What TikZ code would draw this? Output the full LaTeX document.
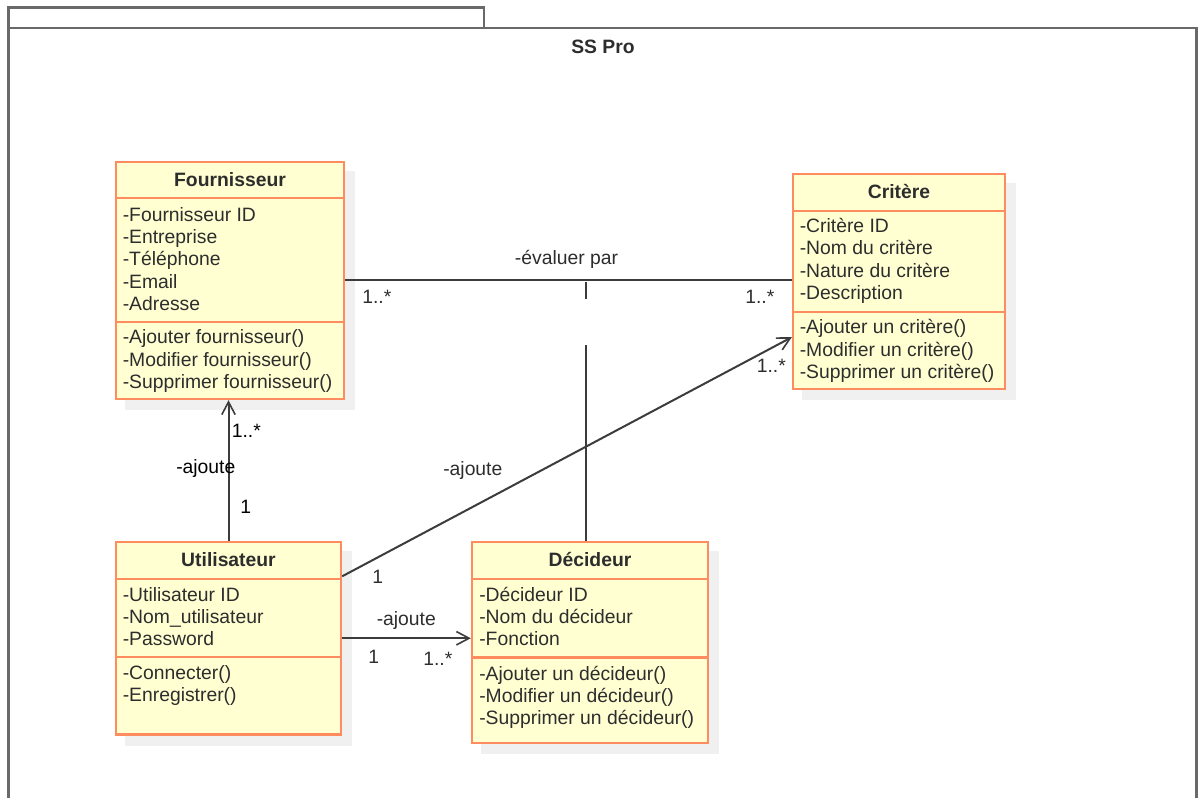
\documentclass[tikz,border=0pt]{standalone}
\usepackage{fontspec}
\setmainfont{Liberation Sans}
\usetikzlibrary{arrows.meta,calc,fit,backgrounds}

\definecolor{boxfill}{RGB}{255,255,210}
\definecolor{boxline}{RGB}{255,140,95}
\definecolor{txtgrey}{RGB}{45,45,45}
\definecolor{linegrey}{RGB}{60,60,60}
\definecolor{framegrey}{RGB}{105,105,105}

\tikzset{
  pkgframe/.style={draw=framegrey, line width=1.8pt},
  classbox/.style={draw=boxline, fill=boxfill, line width=1.8pt, inner sep=0pt},
  boxsep/.style={draw=boxline, line width=1.8pt},
  boxshade/.style={fill=black!6},
  ctitle/.style={anchor=base, inner sep=0pt, text=txtgrey, font=\fontsize{14.5}{16.5}\selectfont\bfseries},
  member/.style={anchor=base west, inner sep=0pt, text=txtgrey, font=\fontsize{14.5}{16.5}\selectfont},
  lbl/.style={member},
  assoc/.style={draw=linegrey, line width=1.5pt},
  navig/.style={assoc, -{Straight Barb[length=9.5pt,width=10pt,line width=1.2pt]}},
}

\begin{document}
\begin{tikzpicture}[x=0.75pt,y=0.75pt,yscale=-1,xscale=1]
\useasboundingbox (0,0) rectangle (1200,798);

%Shape: Package [id:pkg]
\draw[pkgframe] (8.5,28) -- (8.5,7.5) -- (484,7.5) -- (484,28) ;
\draw[pkgframe] (8.5,798) -- (8.5,28) -- (1196.5,28) -- (1196.5,798) ;
% Text Node
\node[ctitle] (pkg) at (603,54) {SS Pro};

%Shape: Class [id:four]
\node[classbox, fit={(116,162) (344,399)}] (four) {};
\draw[boxsep] (116,198) -- (344,198) ;
\draw[boxsep] (116,322) -- (344,322) ;
\node[ctitle] (four-t) at (230,187) {Fournisseur};
\node[member] (four-a1) at (122.5,221.5) {-Fournisseur ID};
\node[member] (four-a2) at (122.5,243.7) {-Entreprise};
\node[member] (four-a3) at (122.5,265.9) {-Téléphone};
\node[member] (four-a4) at (122.5,288.1) {-Email};
\node[member] (four-a5) at (122.5,310.3) {-Adresse};
\node[member] (four-m1) at (122.5,344) {-Ajouter fournisseur()};
\node[member] (four-m2) at (122.5,366.2) {-Modifier fournisseur()};
\node[member] (four-m3) at (122.5,388.4) {-Supprimer fournisseur()};

%Shape: Class [id:crit]
\node[classbox, fit={(793,174) (1005,389)}] (crit) {};
\draw[boxsep] (793,211) -- (1005,211) ;
\draw[boxsep] (793,312) -- (1005,312) ;
\node[ctitle] (crit-t) at (899,198.3) {Critère};
\node[member] (crit-a1) at (799.5,232.7) {-Critère ID};
\node[member] (crit-a2) at (799.5,254.9) {-Nom du critère};
\node[member] (crit-a3) at (799.5,277.1) {-Nature du critère};
\node[member] (crit-a4) at (799.5,299.3) {-Description};
\node[member] (crit-m1) at (799.5,334) {-Ajouter un critère()};
\node[member] (crit-m2) at (799.5,356.2) {-Modifier un critère()};
\node[member] (crit-m3) at (799.5,378.4) {-Supprimer un critère()};

%Shape: Class [id:util]
\node[classbox, fit={(116,542) (341,734.5)}] (util) {};
\draw[boxsep] (116,579) -- (341,579) ;
\draw[boxsep] (116,657) -- (341,657) ;
\node[ctitle] (util-t) at (228.5,566.5) {Utilisateur};
\node[member] (util-a1) at (122.5,601) {-Utilisateur ID};
\node[member] (util-a2) at (122.5,623.2) {-Nom\_utilisateur};
\node[member] (util-a3) at (122.5,645.4) {-Password};
\node[member] (util-m1) at (122.5,679.3) {-Connecter()};
\node[member] (util-m2) at (122.5,701.5) {-Enregistrer()};

%Shape: Class [id:deci]
\node[classbox, fit={(472,542) (708,743)}] (deci) {};
\draw[boxsep] (472,579) -- (708,579) ;
\draw[boxsep] (472,657.5) -- (708,657.5) ;
\node[ctitle] (deci-t) at (590,566) {Décideur};
\node[member] (deci-a1) at (479,601) {-Décideur ID};
\node[member] (deci-a2) at (479,623.2) {-Nom du décideur};
\node[member] (deci-a3) at (479,645.4) {-Fonction};
\node[member] (deci-m1) at (479,680) {-Ajouter un décideur()};
\node[member] (deci-m2) at (479,702.2) {-Modifier un décideur()};
\node[member] (deci-m3) at (479,724.4) {-Supprimer un décideur()};

%Shadows
\begin{scope}[on background layer]
\fill[boxshade] ($(four.north west)+(10,10)$) rectangle ($(four.south east)+(10,10)$) ;
\fill[boxshade] ($(crit.north west)+(10,10)$) rectangle ($(crit.south east)+(10,10)$) ;
\fill[boxshade] ($(util.north west)+(10,10)$) rectangle ($(util.south east)+(10,10)$) ;
\fill[boxshade] ($(deci.north west)+(10,10)$) rectangle ($(deci.south east)+(10,10)$) ;
\end{scope}

%Straight Lines [id:evaluer]
\draw[assoc] (four.east) -- (four.east -| crit.west) ;
\coordinate (evalmid) at (586,280.5) ;
\draw[assoc] ($(evalmid)+(0,2)$) -- ($(evalmid)+(0,19)$) ;
\draw[assoc] (deci.north -| evalmid) -- ($(evalmid)+(0,65)$) ;

%Straight Lines [id:ajoute]
\draw[navig] (util.north) -- (util.north |- four.south) ;
\draw[navig] ($(util.north east)+(0,35.5)$) -- ($(crit.south west)+(0,-53)$) ;
\draw[navig] (util.east) -- (util.east -| deci.west) ;

% Text Node
\node[lbl, anchor=base] (eval-l) at (566.5,265) {-évaluer par};
\node[lbl] (eval-m1) at (362,304) {1..*};
\node[lbl] (eval-m2) at (745,304) {1..*};
% Text Node
\node[lbl, text=black] (ajf-l) at (176,474) {-ajoute};
\node[lbl, text=black] (ajf-m1) at (231.5,438) {1..*};
\node[lbl, text=black] (ajf-m2) at (240,513) {1};
% Text Node
\node[lbl] (ajc-l) at (443,475) {-ajoute};
\node[lbl] (ajc-m1) at (372,583) {1};
\node[lbl] (ajc-m2) at (756.5,373) {1..*};
% Text Node
\node[lbl] (ajd-l) at (376.5,625) {-ajoute};
\node[lbl] (ajd-m1) at (368,663) {1};
\node[lbl] (ajd-m2) at (423,665) {1..*};

\end{tikzpicture}
\end{document}
